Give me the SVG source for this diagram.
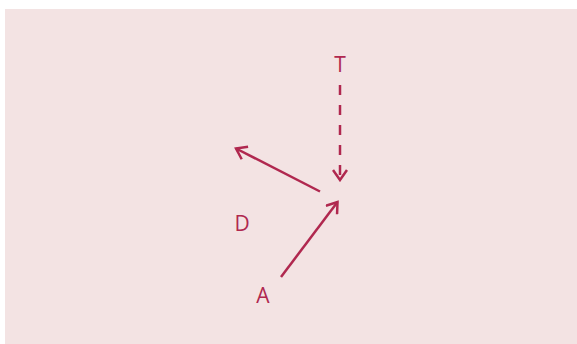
<svg xmlns="http://www.w3.org/2000/svg" width="577" height="344" viewBox="0 0 577 344">
<style>
.lbl{font-family:"Open Sans","Noto Sans",sans-serif;font-size:21px;fill:#b0284f;text-anchor:middle}
.edge{stroke:#b0284f;stroke-width:2.5;fill:none;marker-end:url(#ah)}
</style>
<defs>
<marker id="ah" markerUnits="userSpaceOnUse" viewBox="-12 -8 14 16" markerWidth="14" markerHeight="16" refX="0" refY="0" orient="auto">
<path d="M-10,-7 L0,0 L-10,7" fill="none" stroke="#b0284f" stroke-width="2.5"/>
</marker>
</defs>
<rect x="5" y="9" width="572" height="335" fill="#f3e3e3"/>
<g id="edges">
<path class="edge" d="M340,85 L340,180" stroke-dasharray="10,10"/>
<path class="edge" d="M320,191.5 L236,148.5"/>
<path class="edge" d="M281,277 L337.5,202"/>
</g>
<g id="T"><text class="lbl" x="340" y="71.5">T</text></g>
<g id="D"><text class="lbl" x="242" y="231">D</text></g>
<g id="A"><text class="lbl" x="263" y="303">A</text></g>
</svg>
